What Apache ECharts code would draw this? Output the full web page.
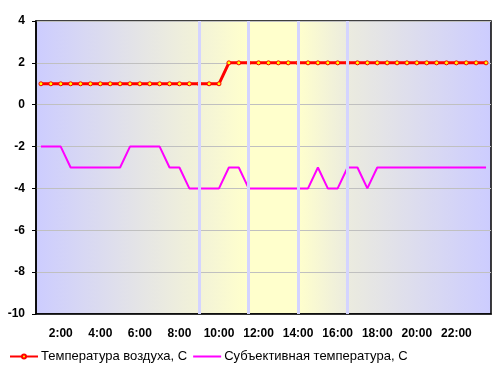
<!DOCTYPE html>
<html>
<head>
<meta charset="utf-8">
<script src="https://cdn.jsdelivr.net/npm/echarts@6/dist/echarts.min.js"></script>
<style>
  html, body { margin: 0; padding: 0; background: #fff; }
  #chart { width: 503px; height: 370px; }
</style>
</head>
<body>
<div id="chart"></div>
<script>
// half-hour steps, 1:00 .. 23:30
const times = [
  "1:00", "1:30", "2:00", "2:30", "3:00", "3:30", "4:00", "4:30",
  "5:00", "5:30", "6:00", "6:30", "7:00", "7:30", "8:00", "8:30",
  "9:00", "9:30", "10:00", "10:30", "11:00", "11:30", "12:00", "12:30",
  "13:00", "13:30", "14:00", "14:30", "15:00", "15:30", "16:00", "16:30",
  "17:00", "17:30", "18:00", "18:30", "19:00", "19:30", "20:00", "20:30",
  "21:00", "21:30", "22:00", "22:30", "23:00", "23:30"
];

const airTemp = [
  1, 1, 1, 1, 1, 1, 1, 1, 1, 1, 1, 1, 1, 1, 1, 1, 1, 1, 1,
  2, 2, 2, 2, 2, 2, 2, 2, 2, 2, 2, 2, 2, 2, 2, 2, 2, 2, 2,
  2, 2, 2, 2, 2, 2, 2, 2
];

const feelTemp = [
  -2, -2, -2, -3, -3, -3, -3, -3, -3, -2, -2, -2, -2, -3, -3, -4,
  -4, -4, -4, -3, -3, -4, -4, -4, -4, -4, -4, -4, -3, -4, -4, -3,
  -3, -4, -3, -3, -3, -3, -3, -3, -3, -3, -3, -3, -3, -3
];

// vertical marker lines
const markTimes = ["9:00", "11:30", "14:00", "16:30"];

const legendNames = ["Температура воздуха, С", "Субъективная температура, С"];

const chart = echarts.init(document.getElementById("chart"));

const bg = new echarts.graphic.LinearGradient(0, 0, 1, 0, [
  { offset: 0, color: "#ccccff" },
  { offset: 0.356, color: "#f2f2d8" },
  { offset: 0.466, color: "#ffffcc" },
  { offset: 0.576, color: "#ffffcc" },
  { offset: 0.686, color: "#ebebdf" },
  { offset: 1, color: "#ccccff" },
]);

const option = {
  animation: false,
  textStyle: { fontFamily: "Liberation Sans, Arial, sans-serif" },
  grid: {
    left: 36,
    right: 12,
    top: 21,
    bottom: 56,
    show: true,
    backgroundColor: bg,
    borderColor: "#000",
    borderWidth: 1.5,
  },
  legend: {
    data: [
      { name: legendNames[0] },
      { name: legendNames[1], icon: "path://M0,0 L28,0 L28,2 L0,2 Z" },
    ],
    left: 4,
    top: 345,
    itemWidth: 28,
    itemHeight: 5,
    itemGap: 6,
    textStyle: { color: "#000", fontSize: 13, padding: [0, 0, 0, -2] },
  },
  xAxis: {
    type: "category",
    data: times,
    boundaryGap: true,
    axisLine: { onZero: false, lineStyle: { color: "#000", width: 1.5 } },
    axisTick: {
      length: 4,
      interval: (i) => i % 2 === 0,
      lineStyle: { color: "#000" },
    },
    axisLabel: {
      interval: (i) => i % 4 === 2,
      color: "#000",
      fontWeight: "bold",
      fontSize: 12,
      margin: 14,
    },
    splitLine: { show: false },
  },
  yAxis: {
    type: "value",
    min: -10,
    max: 4,
    interval: 2,
    axisLine: { show: true, lineStyle: { color: "#000", width: 1.5 } },
    axisTick: { show: true, length: 4, lineStyle: { color: "#000" } },
    axisLabel: { color: "#000", fontWeight: "bold", fontSize: 12, margin: 11 },
    splitLine: { lineStyle: { color: "#c0c0c0", width: 1 } },
  },
  series: [
    {
      name: "marks",
      type: "line",
      data: [],
      z: 1,
      silent: true,
      markLine: {
        silent: true,
        symbol: "none",
        label: { show: false },
        lineStyle: { color: "#d4d4ff", width: 3, type: "solid" },
        data: markTimes.map((t) => ({ xAxis: t })),
      },
    },
    {
      name: legendNames[0],
      type: "line",
      data: airTemp,
      z: 3,
      symbol: "circle",
      symbolSize: 4,
      lineStyle: { color: "#ff0000", width: 3 },
      itemStyle: { color: "#ffff00", borderColor: "#ff0000", borderWidth: 1 },
    },
    {
      name: legendNames[1],
      type: "line",
      data: feelTemp,
      z: 2,
      symbol: "none",
      lineStyle: { color: "#ff00ff", width: 2 },
      itemStyle: { color: "#ff00ff" },
    },
  ],
};

chart.setOption(option);
</script>
</body>
</html>
